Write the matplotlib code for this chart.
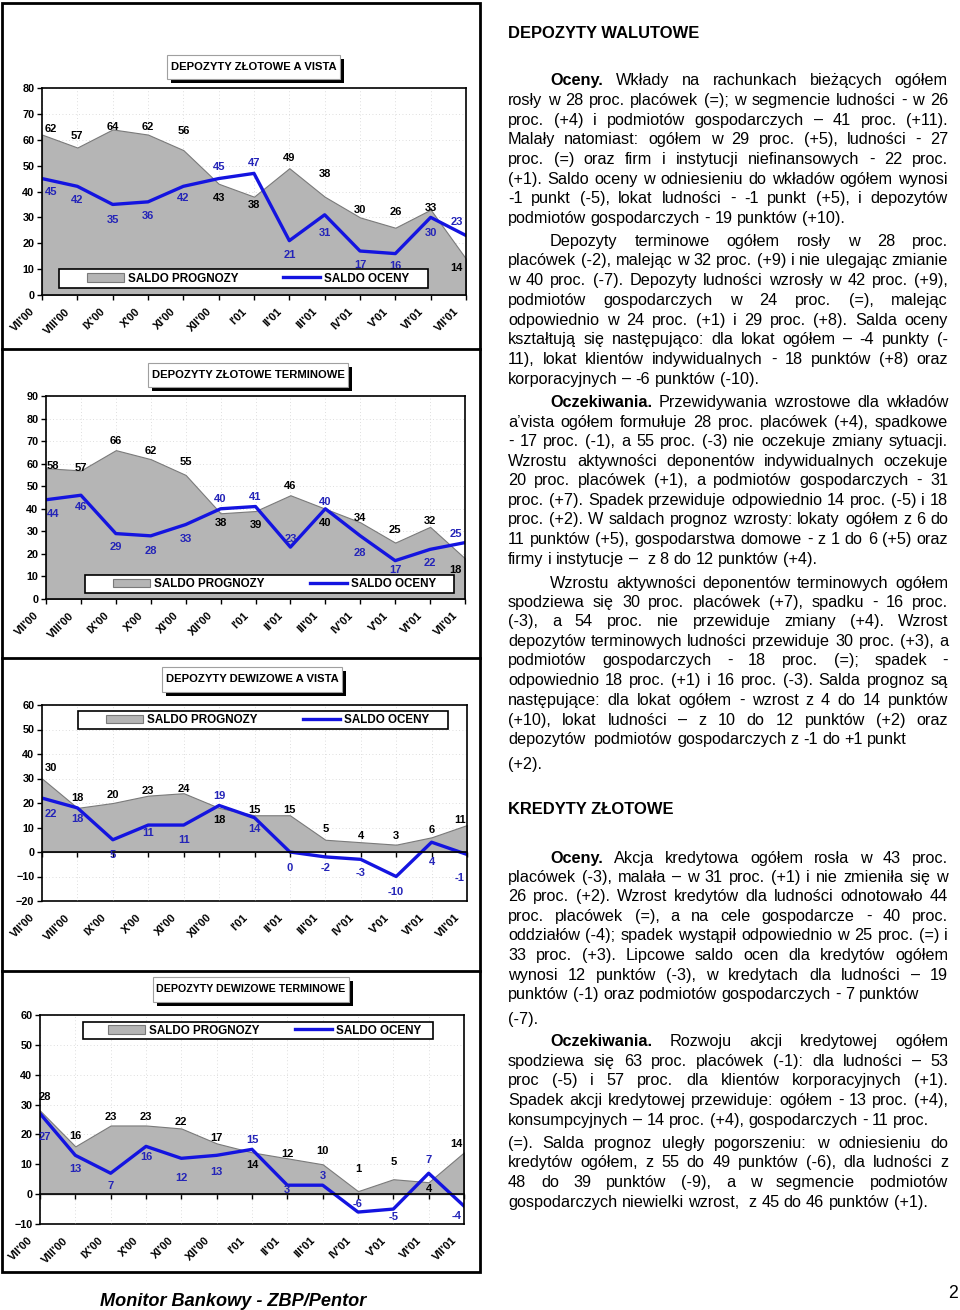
import matplotlib
matplotlib.use("Agg")
import matplotlib.pyplot as plt
import numpy as np
from matplotlib.lines import Line2D
from matplotlib.patches import Rectangle
from matplotlib.transforms import ScaledTranslation

plt.rcParams["font.family"] = ["Liberation Sans", "DejaVu Sans"]

# ---- data ----
months = ["VII'00", "VIII'00", "IX'00", "X'00", "XI'00", "XII'00", "I'01",
          "II'01", "III'01", "IV'01", "V'01", "VI'01", "VII'01"]

zl_vista_prognozy = [62, 57, 64, 62, 56, 43, 38, 49, 38, 30, 26, 33, 14]
zl_vista_oceny = [45, 42, 35, 36, 42, 45, 47, 21, 31, 17, 16, 30, 23]
zl_term_prognozy = [58, 57, 66, 62, 55, 38, 39, 46, 40, 34, 25, 32, 18]
zl_term_oceny = [44, 46, 29, 28, 33, 40, 41, 23, 40, 28, 17, 22, 25]
dew_vista_prognozy = [30, 18, 20, 23, 24, 18, 15, 15, 5, 4, 3, 6, 11]
dew_vista_oceny = [22, 18, 5, 11, 11, 19, 14, 0, -2, -3, -10, 4, -1]
dew_term_prognozy = [28, 16, 23, 23, 22, 17, 14, 12, 10, 1, 5, 4, 14]
dew_term_oceny = [27, 13, 7, 16, 12, 13, 15, 3, 3, -6, -5, 7, -4]

# ---- label placement (offsets in data units, style only) ----
zl_vista_prog_dy = [2.3, 4.5, 1, 3, 7.4, -5.6, -3.2, 3.8, 8.7, 2.9, 6.2, 0.5, -3.6]
zl_vista_ocen_dy = [-5.1, -5.3, -6, -5.3, -4.6, 4.6, 4.2, -5.5, -6.9, -5.3, -4.7, -5.9, 5.4]
zl_term_prog_dy = [0.8, 1.3, 3.9, 3.5, 5.8, -4.5, -6, 4, -6.2, 2.1, 5.4, 2.8, -5.2]
zl_term_ocen_dy = [-6.5, -5.1, -6.1, -6.5, -6.5, 4.4, 4.3, 3.7, 2.9, -7.8, -4.2, -6.2, 3.6]
dew_vista_prog_dy = [4.1, 4.2, 3.4, 1.8, 1.9, -5.1, 2, 2, 4.3, 2.6, 3.6, 2.9, 1.9]
dew_vista_ocen_dy = [-6.3, -4.4, -6.4, -3.1, -6.2, 3.9, -4.7, -6.4, -4.4, -5.6, -6.3, -8, -9.8]
dew_term_prog_dy = [4.7, 3.6, 2.8, 2.8, 2.3, 1.7, -4.2, 1.5, 4.6, 7.5, 5.6, -2.2, 2.7]
dew_term_ocen_dy = [-8, -4.6, -4.4, -3.7, -6.6, -5.6, 3, -1.5, 3.2, 2.8, -2.7, 4.5, -3.4]

W, H = 960, 1310
GRAY = "#b5b5b5"
EDGE = "#7a7a7a"
BLUE = "#1414e0"
LBLUE = "#2424b8"
TICK_SIZE = 7.6
LEG_SIZE = 8.4

fig = plt.figure(figsize=(W / 100, H / 100), dpi=100)
renderer = fig.canvas.get_renderer()


def fx(x):
    return x / W


def fy(y):
    return 1 - y / H


def px_box(l, t, r, b):
    return [fx(l), fy(b), (r - l) / W, (b - t) / H]


def text_width(s, size, weight="normal", style="normal"):
    t = fig.text(0, 0, s, fontsize=size, fontweight=weight, fontstyle=style)
    w = t.get_window_extent(renderer).width
    t.remove()
    return w


def fit_size(s, width_px, weight="normal", style="normal"):
    return 12 * width_px / text_width(s, 12, weight, style)


charts = [
    dict(title="DEPOZYTY ZŁOTOWE A VISTA", prog=zl_vista_prognozy, ocen=zl_vista_oceny,
         prog_dy=zl_vista_prog_dy, ocen_dy=zl_vista_ocen_dy, ylim=(0, 80),
         ax_px=(42, 88, 466, 295), legend_px=(59, 269, 428, 288), handles_px=(87, 283),
         title_px=(167, 55, 340, 79), edge_dx=(0.26, -0.27)),
    dict(title="DEPOZYTY ZŁOTOWE TERMINOWE", prog=zl_term_prognozy, ocen=zl_term_oceny,
         prog_dy=zl_term_prog_dy, ocen_dy=zl_term_ocen_dy, ylim=(0, 90),
         ax_px=(46, 396, 465, 599), legend_px=(85, 575, 454, 593), handles_px=(113, 310),
         title_px=(148, 363, 348, 387), edge_dx=(0.21, -0.27)),
    dict(title="DEPOZYTY DEWIZOWE A VISTA", prog=dew_vista_prognozy, ocen=dew_vista_oceny,
         prog_dy=dew_vista_prog_dy, ocen_dy=dew_vista_ocen_dy, ylim=(-20, 60),
         ax_px=(42, 705, 467, 901), legend_px=(78, 711, 448, 729), handles_px=(106, 303),
         title_px=(162, 667, 342, 692), edge_dx=(0.25, -0.2)),
    dict(title="DEPOZYTY DEWIZOWE TERMINOWE", prog=dew_term_prognozy, ocen=dew_term_oceny,
         prog_dy=dew_term_prog_dy, ocen_dy=dew_term_ocen_dy, ylim=(-10, 60),
         ax_px=(40, 1015, 464, 1224), legend_px=(83, 1022, 433, 1039), handles_px=(108, 295),
         title_px=(153, 977, 349, 1002), edge_dx=(0.15, -0.22)),
]

label_shift = ScaledTranslation(-9 / 100, -15 / 100, fig.dpi_scale_trans)
HANDLE_LEN = 3.2
TEXT_PAD = 0.3

for c in charts:
    ax = fig.add_axes(px_box(*c["ax_px"]))
    x = np.arange(len(months))
    area = ax.fill_between(x, 0, c["prog"], facecolor=GRAY, edgecolor=EDGE, lw=0.8,
                           zorder=2, label="SALDO PROGNOZY")
    line, = ax.plot(x, c["ocen"], color=BLUE, lw=2.4, zorder=3, label="SALDO OCENY")
    last = len(months) - 1
    for i, (p, o, pdy, ody) in enumerate(zip(c["prog"], c["ocen"], c["prog_dy"], c["ocen_dy"])):
        dx = c["edge_dx"][0] if i == 0 else (c["edge_dx"][1] if i == last else 0)
        ax.text(i + dx, p + pdy, str(p), ha="center", va="center", fontsize=TICK_SIZE + 0.4,
                fontweight="bold", color="black", zorder=4)
        ax.text(i + dx, o + ody, str(o), ha="center", va="center", fontsize=TICK_SIZE + 0.4,
                fontweight="bold", color=LBLUE, zorder=4)

    lo, hi = c["ylim"]
    ax.set_xlim(0, last)
    ax.set_ylim(lo, hi)
    ax.set_yticks(np.arange(lo, hi + 1, 10))
    ax.set_xticks(x)
    ax.grid(True, color="#d4d4d4", ls=(0, (1, 3)), lw=0.6)
    ax.set_axisbelow(True)
    for s in ax.spines.values():
        s.set_linewidth(1.2)
        s.set_zorder(3.5)
    ax.spines["bottom"].set_position(("data", 0))
    ax.tick_params(axis="x", direction="out", length=3.5, width=1, labelbottom=False)
    ax.tick_params(axis="y", direction="out", length=3.5, width=1, labelsize=TICK_SIZE + 0.2, pad=2)
    for lab in ax.get_yticklabels():
        lab.set_fontweight("bold")

    sec = ax.secondary_xaxis(0.0)
    sec.set_xticks(x, months, rotation=45, ha="right", va="center",
                   rotation_mode="anchor", fontweight="bold", fontsize=TICK_SIZE + 0.4)
    sec.tick_params(length=0, pad=0)
    sec.spines["bottom"].set_linewidth(1.2)
    for lab in sec.get_xticklabels():
        lab.set_transform(lab.get_transform() + label_shift)

    # legend: white framed box, entries placed at the positions seen on the page
    l, t, r, b = c["legend_px"]
    fig.patches.append(Rectangle((fx(l), fy(b)), (r - l) / W, (b - t) / H,
                                 transform=fig.transFigure, facecolor="white",
                                 edgecolor="black", lw=1.2, zorder=5))
    h1, h2 = c["handles_px"]
    pt = 100 / 72
    col1_px = (HANDLE_LEN + TEXT_PAD) * LEG_SIZE * pt + text_width("SALDO PROGNOZY", LEG_SIZE, "bold")
    colspace = ((h2 - h1) - col1_px) / (LEG_SIZE * pt)
    leg = fig.legend(handles=[area, line], loc="center left", ncol=2,
                     bbox_to_anchor=(fx(h1), fy((t + b) / 2)), frameon=False,
                     borderaxespad=0, borderpad=0, handlelength=HANDLE_LEN,
                     handletextpad=TEXT_PAD, columnspacing=colspace,
                     prop=dict(weight="bold", size=LEG_SIZE))
    leg.set_zorder(6)

    l, t, r, b = c["title_px"]
    fig.patches.append(Rectangle((fx(l + 4), fy(b + 4)), (r - l) / W, (b - t) / H,
                                 transform=fig.transFigure, facecolor="black",
                                 edgecolor="none", zorder=5))
    fig.patches.append(Rectangle((fx(l), fy(b)), (r - l) / W, (b - t) / H,
                                 transform=fig.transFigure, facecolor="white",
                                 edgecolor="#a0a0a0", lw=0.8, zorder=6))
    title_size = fit_size(c["title"], (r - l) - 7, "bold")
    fig.text(fx((l + r) / 2), fy((t + b) / 2), c["title"], ha="center", va="center",
             fontsize=title_size, fontweight="bold", zorder=7)

# page frame around the charts
fig.patches.append(Rectangle((fx(2), fy(1272)), 478 / W, 1269 / H, transform=fig.transFigure,
                             facecolor="none", edgecolor="black", lw=2.0, zorder=8))
for yy in (349, 658, 971):
    fig.add_artist(Line2D([fx(2), fx(480)], [fy(yy), fy(yy)], color="black", lw=2.0))

# ---- right column text ----
body_left, body_right, indent_x = 508, 948, 550
body_size = fit_size("podmiotów gospodarczych - 19 punktów (+10).", 339)
space_w = text_width("x x", body_size) - text_width("xx", body_size)

body_lines = [
    ("**Oceny.** Wkłady na rachunkach bieżących ogółem", 79, True, True),
    ("rosły w 28 proc. placówek (=); w segmencie ludności - w 26", 99, False, True),
    ("proc. (+4) i podmiotów gospodarczych – 41 proc. (+11).", 119, False, True),
    ("Malały natomiast: ogółem w 29 proc. (+5), ludności - 27", 138, False, True),
    ("proc. (=) oraz firm i instytucji niefinansowych - 22 proc.", 158, False, True),
    ("(+1). Saldo oceny w odniesieniu do wkładów ogółem wynosi", 178, False, True),
    ("-1 punkt (-5), lokat ludności - -1 punkt (+5), i depozytów", 197, False, True),
    ("podmiotów gospodarczych - 19 punktów (+10).", 217, False, False),
    ("Depozyty terminowe ogółem rosły w 28 proc.", 240, True, True),
    ("placówek (-2), malejąc w 32 proc. (+9) i nie ulegając zmianie", 259, False, True),
    ("w 40 proc. (-7). Depozyty ludności wzrosły w 42 proc. (+9),", 279, False, True),
    ("podmiotów gospodarczych w 24 proc. (=), malejąc", 299, False, True),
    ("odpowiednio w 24 proc. (+1) i 29 proc. (+8). Salda oceny", 319, False, True),
    ("kształtują się następująco: dla lokat ogółem – -4 punkty (-", 338, False, True),
    ("11), lokat klientów indywidualnych - 18 punktów (+8) oraz", 358, False, True),
    ("korporacyjnych – -6 punktów (-10).", 378, False, False),
    ("**Oczekiwania.** Przewidywania wzrostowe dla wkładów", 401, True, True),
    ("a’vista ogółem formułuje 28 proc. placówek (+4), spadkowe", 421, False, True),
    ("- 17 proc. (-1), a 55 proc. (-3) nie oczekuje zmiany sytuacji.", 440, False, True),
    ("Wzrostu aktywności deponentów indywidualnych oczekuje", 460, False, True),
    ("20 proc. placówek (+1), a podmiotów gospodarczych - 31", 479, False, True),
    ("proc. (+7). Spadek przewiduje odpowiednio 14 proc. (-5) i 18", 499, False, True),
    ("proc. (+2). W saldach prognoz wzrosty: lokaty ogółem z 6 do", 518, False, True),
    ("11 punktów (+5), gospodarstwa domowe - z 1 do 6 (+5) oraz", 538, False, True),
    ("firmy i instytucje –  z 8 do 12 punktów (+4).", 558, False, False),
    ("Wzrostu aktywności deponentów terminowych ogółem", 582, True, True),
    ("spodziewa się 30 proc. placówek (+7), spadku - 16 proc.", 601, False, True),
    ("(-3), a 54 proc. nie przewiduje zmiany (+4). Wzrost", 620, False, True),
    ("depozytów terminowych ludności przewiduje 30 proc. (+3), a", 640, False, True),
    ("podmiotów gospodarczych - 18 proc. (=); spadek -", 659, False, True),
    ("odpowiednio 18 proc. (+1) i 16 proc. (-3). Salda prognoz są", 679, False, True),
    ("następujące: dla lokat ogółem - wzrost z 4 do 14 punktów", 699, False, True),
    ("(+10), lokat ludności – z 10 do 12 punktów (+2) oraz", 719, False, True),
    ("depozytów  podmiotów gospodarczych z -1 do +1 punkt", 738, False, False),
    ("(+2).", 763, False, False),
    ("**Oceny.** Akcja kredytowa ogółem rosła w 43 proc.", 857, True, True),
    ("placówek (-3), malała – w 31 proc. (+1) i nie zmieniła się w", 876, False, True),
    ("26 proc. (+2). Wzrost kredytów dla ludności odnotowało 44", 895, False, True),
    ("proc. placówek (=), a na cele gospodarcze - 40 proc.", 915, False, True),
    ("oddziałów (-4); spadek wystąpił odpowiednio w 25 proc. (=) i", 934, False, True),
    ("33 proc. (+3). Lipcowe saldo ocen dla kredytów ogółem", 954, False, True),
    ("wynosi 12 punktów (-3), w kredytach dla ludności – 19", 974, False, True),
    ("punktów (-1) oraz podmiotów gospodarczych - 7 punktów", 993, False, False),
    ("(-7).", 1018, False, False),
    ("**Oczekiwania.** Rozwoju akcji kredytowej ogółem", 1040, True, True),
    ("spodziewa się 63 proc. placówek (-1):  dla ludności – 53", 1060, False, True),
    ("proc (-5) i 57 proc. dla klientów korporacyjnych (+1).", 1079, False, True),
    ("Spadek akcji kredytowej przewiduje: ogółem - 13 proc. (+4),", 1099, False, True),
    ("konsumpcyjnych – 14 proc. (+4), gospodarczych - 11 proc.", 1119, False, False),
    ("(=). Salda prognoz uległy pogorszeniu: w odniesieniu do", 1142, False, True),
    ("kredytów ogółem, z 55 do 49 punktów (-6), dla ludności z", 1161, False, True),
    ("48 do 39 punktów (-9), a w segmencie podmiotów", 1181, False, True),
    ("gospodarczych niewielki wzrost,  z 45 do 46 punktów (+1).", 1201, False, False),
]


def draw_body_line(text, y, indent, justify):
    items, extra = [], 0
    for tok in text.split(" "):
        if tok == "":
            extra += 1
            continue
        weight = "bold" if tok.startswith("**") else "normal"
        items.append((tok.strip("*"), weight, extra))
        extra = 0
    x0 = indent_x if indent else body_left
    widths = [text_width(w, body_size, wt) for w, wt, _ in items]
    if justify and len(items) > 1:
        gap = (body_right - x0 - sum(widths)) / (len(items) - 1)
    else:
        gap = space_w
    xx = x0
    base = fy(y + 6)
    for k, ((w, wt, ex), wd) in enumerate(zip(items, widths)):
        if k > 0 and not justify:
            xx += ex * space_w
        fig.text(fx(xx), base, w, fontsize=body_size, fontweight=wt, va="baseline")
        xx += wd + gap


for text, y, indent, justify in body_lines:
    draw_body_line(text, y, indent, justify)

head_size = fit_size("DEPOZYTY WALUTOWE", 190, "bold")
fig.text(fx(508), fy(32 + 6), "DEPOZYTY WALUTOWE", fontsize=head_size, fontweight="bold",
         va="baseline")
fig.text(fx(508), fy(808 + 6), "KREDYTY ZŁOTOWE", fontsize=head_size, fontweight="bold",
         va="baseline")

foot_size = fit_size("Monitor Bankowy - ZBP/Pentor", 266, "bold", "italic")
fig.text(fx(233), fy(1300 + 6), "Monitor Bankowy - ZBP/Pentor", fontsize=foot_size,
         fontweight="bold", fontstyle="italic", ha="center", va="baseline")
fig.text(fx(958), fy(1292 + 6), "2", fontsize=body_size + 1, ha="right", va="baseline")

fig.savefig("out.png", dpi=100)
